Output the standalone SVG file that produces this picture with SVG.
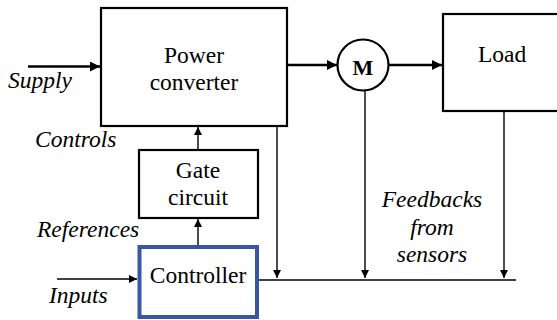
<svg xmlns="http://www.w3.org/2000/svg" width="557" height="320" viewBox="0 0 557 320">
<style>
text{font-family:"Liberation Serif","Times New Roman",serif;font-size:23.5px;fill:#000}
.it{font-style:italic}
.c{text-anchor:middle}
.box{fill:#fff;stroke:#000;stroke-width:2.2}
.thick{stroke:#000;stroke-width:2.6;fill:none}
.thin{stroke:#000;stroke-width:1.4;fill:none}
</style>
<defs>
<marker id="ab" viewBox="0 0 10 10" refX="10" refY="5" markerWidth="10" markerHeight="10" markerUnits="userSpaceOnUse" orient="auto"><path d="M0,0L10,5L0,10z" fill="#000"/></marker>
<marker id="as" viewBox="0 0 10 10" refX="10" refY="5" markerWidth="9" markerHeight="8" markerUnits="userSpaceOnUse" orient="auto"><path d="M0,0L10,5L0,10z" fill="#000"/></marker>
</defs>
<g id="connectors">
<line class="thick" x1="28" y1="66.5" x2="100" y2="66.5" marker-end="url(#ab)"/>
<line class="thick" x1="288" y1="65" x2="337" y2="65" marker-end="url(#ab)"/>
<line class="thick" x1="389" y1="65" x2="442" y2="65" marker-end="url(#ab)"/>
<line class="thin" x1="198" y1="150" x2="198" y2="127" marker-end="url(#as)"/>
<line class="thin" x1="198" y1="245" x2="198" y2="219" marker-end="url(#as)"/>
<line class="thin" x1="57" y1="279" x2="137" y2="279" marker-end="url(#as)"/>
<line class="thin" x1="277" y1="127" x2="277" y2="278" marker-end="url(#as)"/>
<line class="thin" x1="365" y1="91" x2="365" y2="278" marker-end="url(#as)"/>
<line class="thin" x1="504" y1="112" x2="504" y2="278" marker-end="url(#as)"/>
<line class="thin" x1="259" y1="280" x2="516" y2="280"/>
</g>
<g id="power-converter">
<rect class="box" x="101" y="8" width="186" height="118"/>
<text class="c" x="194" y="63">Power</text>
<text class="c" x="194" y="90">converter</text>
</g>
<g id="motor">
<circle cx="363" cy="65" r="25.5" fill="#fff" stroke="#000" stroke-width="2.2"/>
<text class="c" x="363" y="75" style="font-weight:bold;font-size:22px">M</text>
</g>
<g id="load">
<rect class="box" x="443" y="14" width="120" height="97"/>
<text x="478" y="62">Load</text>
</g>
<g id="gate-circuit">
<rect class="box" x="139" y="150" width="119" height="68"/>
<text class="c" x="198" y="178">Gate</text>
<text class="c" x="198" y="205">circuit</text>
</g>
<g id="controller">
<rect x="139.5" y="247" width="117.5" height="70" fill="#fff" stroke="#3b55a5" stroke-width="4"/>
<text class="c" x="198" y="283">Controller</text>
</g>
<g id="labels">
<text class="it" x="8" y="88">Supply</text>
<text class="it" x="35" y="147">Controls</text>
<text class="it" x="37" y="237">References</text>
<text class="it" x="49" y="303">Inputs</text>
<text class="it c" x="432" y="207">Feedbacks</text>
<text class="it c" x="432" y="235">from</text>
<text class="it c" x="432" y="262">sensors</text>
</g>
</svg>
